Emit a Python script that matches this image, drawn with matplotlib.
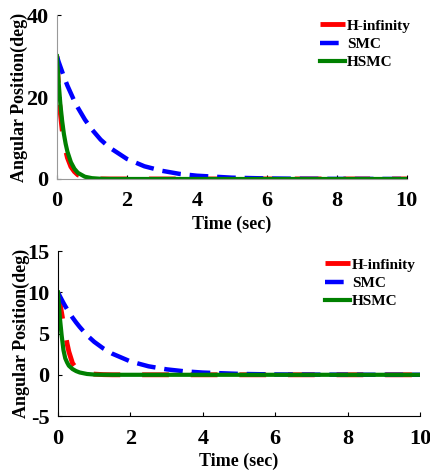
import matplotlib
matplotlib.use('Agg')
import matplotlib.pyplot as plt
import numpy as np

plt.rcParams['font.family'] = ['Liberation Serif', 'DejaVu Serif']
plt.rcParams['font.weight'] = 'bold'
plt.rcParams['axes.unicode_minus'] = False

# Values (angular position in deg vs time in sec)
t = [0, 0.05, 0.1, 0.15, 0.2, 0.25, 0.3, 0.4, 0.5, 0.6, 0.8, 1.0, 1.25, 1.5,
     2.0, 2.5, 3.0, 3.5, 4.0, 5.0, 6.0, 7.0, 8.0, 9.0, 10.0]

# top panel (initial 30 deg)
hinf_top = [30, 22, 16, 12, 9, 7, 5.2, 3.0, 1.8, 1.0, 0.35, 0.1, 0.02, 0,
            0, 0, 0, 0, 0, 0, 0, 0, 0, 0, 0]
smc_top = [30, 28.6, 27.4, 26.2, 25.0, 23.9, 22.8, 20.9, 19.0, 17.4, 14.5, 12.1, 9.6, 7.7,
           4.9, 3.1, 2.0, 1.25, 0.8, 0.32, 0.13, 0.05, 0.02, 0.01, 0]
hsmc_top = [30, 23.5, 18.2, 14.2, 11.0, 8.6, 6.7, 4.1, 2.5, 1.5, 0.55, 0.2, 0.05, 0.01,
            0, 0, 0, 0, 0, 0, 0, 0, 0, 0, 0]

# bottom panel (initial 10 deg)
hinf_bot = [10, 8.8, 7.5, 6.2, 5.0, 3.8, 2.8, 1.4, 0.8, 0.5, 0.2, 0.08, 0.02, 0,
            0, 0, 0, 0, 0, 0, 0, 0, 0, 0, 0]
smc_bot = [10, 9.55, 9.13, 8.72, 8.33, 7.96, 7.6, 6.95, 6.35, 5.8, 4.8, 4.0, 3.2, 2.56,
           1.62, 1.03, 0.66, 0.42, 0.27, 0.11, 0.04, 0.02, 0.01, 0, 0]
hsmc_bot = [10, 7.0, 4.8, 3.0, 2.0, 1.5, 1.1, 0.7, 0.45, 0.28, 0.1, 0.03, 0.01, 0,
            0, 0, 0, 0, 0, 0, 0, 0, 0, 0, 0]

labels = ['H-infinity', 'SMC', 'HSMC']

W, H = 431, 473
fig = plt.figure(figsize=(W / 100, H / 100), dpi=100)
ax1 = fig.add_axes([0.132, 0.6216, 0.812, 0.3464])
ax2 = fig.add_axes([0.1346, 0.1205, 0.8399, 0.3485])


def draw(ax, h, s, g, ylim, yticks, spine_color, leg_anchor):
    ax.plot(t, h, color='red', lw=3.5, ls=(0, (5.5, 4.5)), label=labels[0])
    ax.plot(t, s, color='blue', lw=3.2, ls=(0, (4.2, 2.0)), label=labels[1])
    ax.plot(t, g, color='green', lw=3.0, ls='-', label=labels[2])
    ax.set_xlim(0, 10)
    ax.set_ylim(*ylim)
    ax.set_xticks([0, 2, 4, 6, 8, 10])
    ax.set_yticks(yticks)
    for side in ['top', 'right']:
        ax.spines[side].set_visible(False)
    for side in ['left', 'bottom']:
        ax.spines[side].set_color(spine_color)
        ax.spines[side].set_linewidth(0.8)
    ax.tick_params(direction='in', length=3, width=0.8, labelsize=16)
    ax.tick_params(axis='x', pad=9)
    ax.tick_params(axis='y', pad=6)
    for lab in ax.get_xticklabels() + ax.get_yticklabels():
        lab.set_fontweight('bold')
    ax.set_xlabel('Time (sec)', fontsize=13, fontweight='bold', labelpad=3)
    ax.set_ylabel('Angular Position(deg)', fontsize=13, fontweight='bold', labelpad=-1.5)
    leg = ax.legend(loc='upper right', frameon=False, fontsize=11,
                    handlelength=1.6, handletextpad=0.15, labelspacing=0.3,
                    borderaxespad=0, borderpad=0,
                    bbox_to_anchor=(leg_anchor[0] / W, 1 - leg_anchor[1] / H),
                    bbox_transform=fig.transFigure)
    for txt in leg.get_texts():
        txt.set_fontweight('bold')


draw(ax1, hinf_top, smc_top, hsmc_top, (0, 40), [0, 20, 40], '#999999', (411, 19))
draw(ax2, hinf_bot, smc_bot, hsmc_bot, (-5, 15), [-5, 0, 5, 10, 15], 'black', (416, 258))

fig.savefig('out.png', dpi=100)
